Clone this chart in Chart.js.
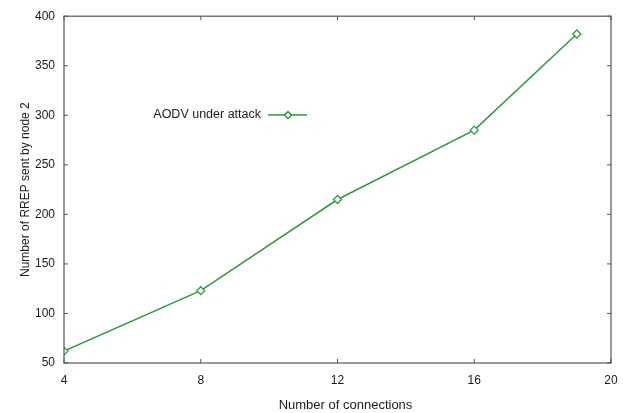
<!DOCTYPE html>
<html>
<head>
<meta charset="utf-8">
<script src="https://cdn.jsdelivr.net/npm/chart.js@4"></script>
<style>
  html, body { margin: 0; padding: 0; background: #fff; }
  #wrap { width: 630px; height: 413px; }
</style>
</head>
<body>
<div id="wrap"><canvas id="chart_rrep"></canvas></div>
<script>
const connections = [4, 8, 12, 16, 19];
const rrepSent = [62, 123, 215, 285, 382];
const xTicks = [4, 8, 12, 16, 20];
const yTicks = [50, 100, 150, 200, 250, 300, 350, 400];
const seriesLabel = 'AODV under attack';
const xTitle = 'Number of connections';
const yTitle = 'Number of RREP sent by node 2';

const lineColor = '#2e9a3e';
const axisColor = '#555';
const textColor = '#1a1a1a';
const fontFamily = '"Liberation Sans", Arial, sans-serif';

// gnuplot-like frame with inward ticks, x title and the legend inside the plot
const gnuplotFrame = {
    id: 'gnuplotFrame',
    afterDraw(chart) {
        const ctx = chart.ctx;
        const a = chart.chartArea;
        const xs = chart.scales.x;
        const ys = chart.scales.y;
        ctx.save();
        ctx.strokeStyle = axisColor;
        ctx.lineWidth = 1.2;
        ctx.strokeRect(a.left, a.top, a.right - a.left, a.bottom - a.top);
        ctx.lineWidth = 1;
        xTicks.forEach(v => {
            const px = xs.getPixelForValue(v);
            ctx.beginPath();
            ctx.moveTo(px, a.bottom); ctx.lineTo(px, a.bottom - 4);
            ctx.moveTo(px, a.top); ctx.lineTo(px, a.top + 4);
            ctx.stroke();
        });
        yTicks.forEach(v => {
            const py = ys.getPixelForValue(v);
            ctx.beginPath();
            ctx.moveTo(a.left, py); ctx.lineTo(a.left + 4, py);
            ctx.moveTo(a.right, py); ctx.lineTo(a.right - 4, py);
            ctx.stroke();
        });

        // x axis title (gnuplot puts it a little right of centre)
        ctx.fillStyle = textColor;
        ctx.font = '13px ' + fontFamily;
        ctx.textAlign = 'center';
        ctx.textBaseline = 'middle';
        ctx.fillText(xTitle, (a.left + a.right) / 2 + 8, 405);

        // legend: text then line sample with marker
        const ly = 115;
        ctx.font = '12.5px ' + fontFamily;
        ctx.textAlign = 'right';
        ctx.fillText(chart.data.datasets[0].label, 261, ly);
        ctx.strokeStyle = lineColor;
        ctx.lineWidth = 1.5;
        ctx.beginPath();
        ctx.moveTo(268, ly); ctx.lineTo(307, ly);
        ctx.stroke();
        ctx.beginPath();
        ctx.moveTo(288, ly - 3.5); ctx.lineTo(291.5, ly); ctx.lineTo(288, ly + 3.5); ctx.lineTo(284.5, ly);
        ctx.closePath();
        ctx.fillStyle = '#fff';
        ctx.fill();
        ctx.stroke();
        ctx.restore();
    }
};

new Chart(document.getElementById('chart_rrep'), {
    type: 'line',
    data: {
        datasets: [{
            label: seriesLabel,
            data: connections.map((c, i) => ({ x: c, y: rrepSent[i] })),
            borderColor: lineColor,
            backgroundColor: '#fff',
            borderWidth: 1.5,
            pointStyle: 'rectRot',
            pointRadius: 4,
            pointBorderWidth: 1.3,
            tension: 0
        }]
    },
    options: {
        responsive: true,
        maintainAspectRatio: false,
        animation: false,
        layout: { padding: { top: 16, right: 19, left: 18, bottom: 0 } },
        scales: {
            x: {
                type: 'linear',
                min: 4,
                max: 20,
                afterBuildTicks: s => { s.ticks = xTicks.map(v => ({ value: v })); },
                afterFit: s => { s.height = 50; },
                grid: { display: false, drawTicks: false },
                border: { display: false },
                ticks: {
                    padding: 10,
                    color: textColor,
                    font: { family: fontFamily, size: 12 }
                }
            },
            y: {
                type: 'linear',
                min: 50,
                max: 400,
                afterBuildTicks: s => { s.ticks = yTicks.map(v => ({ value: v })); },
                afterFit: s => { s.width = 46; },
                grid: { display: false, drawTicks: false },
                border: { display: false },
                ticks: {
                    padding: 9,
                    color: textColor,
                    font: { family: fontFamily, size: 12 }
                },
                title: {
                    display: true,
                    text: yTitle,
                    color: textColor,
                    padding: { top: 0, bottom: 0 },
                    font: { family: fontFamily, size: 12 }
                }
            }
        },
        plugins: {
            legend: { display: false },
            tooltip: { enabled: false }
        }
    },
    plugins: [gnuplotFrame]
});
</script>
</body>
</html>
